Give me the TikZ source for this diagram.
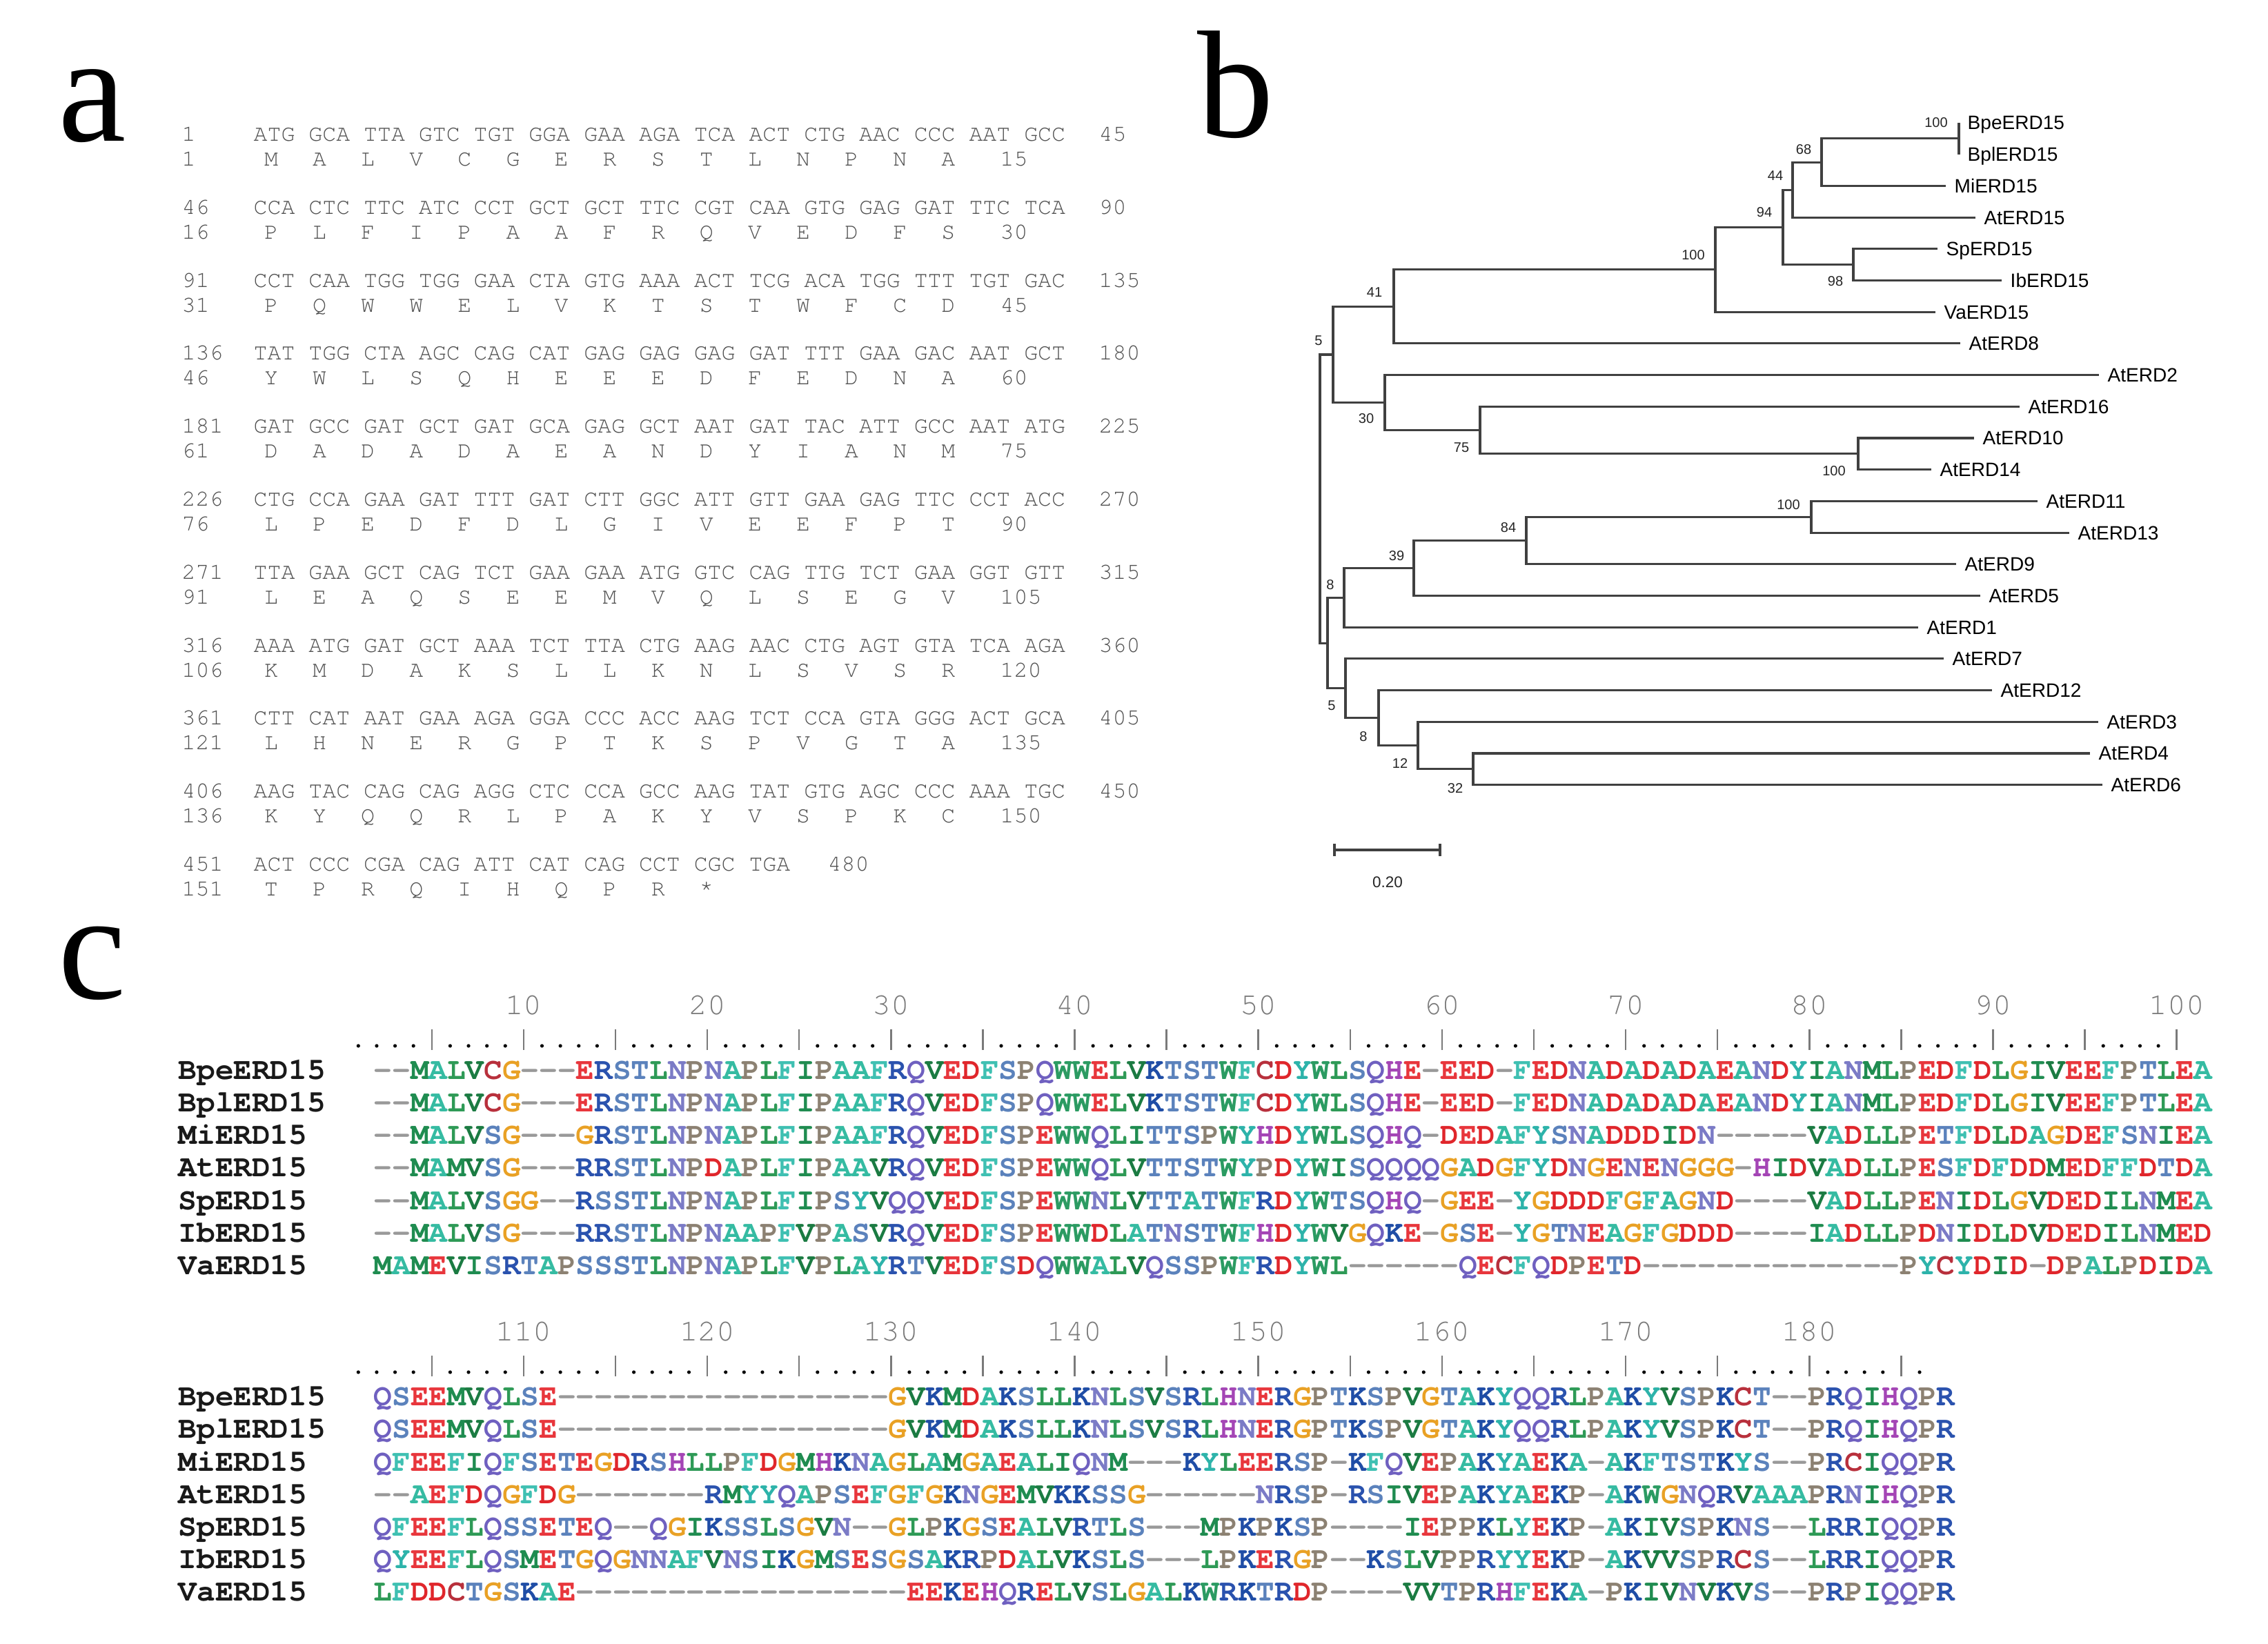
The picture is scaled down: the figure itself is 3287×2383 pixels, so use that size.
\documentclass[tikz,border=0pt]{standalone}
\usepackage{fontspec}
\usetikzlibrary{calc}
\newfontfamily\curfont{texgyrecursor}[Extension=.otf,UprightFont=*-regular,BoldFont=*-bold]
\newfontfamily\sansf{Liberation Sans}
\newfontfamily\serff{Liberation Serif}
\definecolor{agray}{HTML}{505050}
\definecolor{tgray}{HTML}{404040}
\definecolor{rgray}{HTML}{7A7A7A}
\definecolor{gapc}{HTML}{999999}
\definecolor{aaA}{HTML}{35BBA2}
\definecolor{aaC}{HTML}{B8303C}
\definecolor{aaD}{HTML}{E0262B}
\definecolor{aaE}{HTML}{E8363C}
\definecolor{aaF}{HTML}{3FC0B2}
\definecolor{aaG}{HTML}{E9A125}
\definecolor{aaH}{HTML}{A445B5}
\definecolor{aaI}{HTML}{1F8C50}
\definecolor{aaK}{HTML}{1F4DA6}
\definecolor{aaL}{HTML}{2E9A56}
\definecolor{aaM}{HTML}{1F8C50}
\definecolor{aaN}{HTML}{7B7BC6}
\definecolor{aaP}{HTML}{8C8172}
\definecolor{aaQ}{HTML}{6F60C0}
\definecolor{aaR}{HTML}{2A52AE}
\definecolor{aaS}{HTML}{5B82BC}
\definecolor{aaT}{HTML}{5B82BC}
\definecolor{aaV}{HTML}{1B7B42}
\definecolor{aaW}{HTML}{2B9B62}
\definecolor{aaY}{HTML}{2DB3AA}
\def\colseq#1{\colseqi#1\relax}
\def\colseqi#1{\ifx\relax#1\else\colchr{#1}\expandafter\colseqi\fi}
\def\colchr#1{\if-#1\textcolor{gapc}{-}\else\textcolor{aa#1}{#1}\fi}
\tikzset{
 plbl/.style={font=\serff\fontsize{63}{63}\selectfont, anchor=base west, inner sep=0},
 nuc/.style={font=\curfont\fontsize{9.45}{10}\selectfont, text=agray, anchor=base west, inner sep=0},
 aac/.style={font=\curfont\fontsize{9.45}{10}\selectfont, text=agray, anchor=base, inner sep=0},
 branch/.style={draw=tgray, line width=0.9pt},
 leaf/.style={font=\sansf\fontsize{7.97}{8}\selectfont, anchor=base west, inner sep=0, text=black},
 boot/.style={font=\sansf\fontsize{5.7}{6}\selectfont, inner sep=0, text=black!85},
 seq/.style={font=\curfont\bfseries\fontsize{12.63}{13}\selectfont, anchor=base west, inner sep=0},
 sname/.style={font=\curfont\bfseries\fontsize{12.63}{13}\selectfont, anchor=base west, inner sep=0, text=black!90},
 rnum/.style={font=\curfont\fontsize{12.63}{13}\selectfont, text=rgray, anchor=center, inner sep=0},
 rtick/.style={draw=rgray, line width=0.7pt},
}
\newcommand\pArow[8]{%
 \pgfmathsetmacro\ny{204.5+#1*105.8}%
 \pgfmathsetmacro\ay{\ny+36}%
 \node[nuc] (ln#1) at (263,\ny) {#2};
 \node[nuc] (cd#1) at (367,\ny) {#3};
 \node[nuc] (rn#1) at (#5,\ny) {#4};
 \node[nuc] (la#1) at (263,\ay) {#6};
 \foreach \aal [count=\i from 0] in {#7} {\node[aac] (aa#1-\i) at ({393+\i*70.1},\ay) {\aal};}
 \node[nuc] (ra#1) at (1449,\ay) {#8};
}
\begin{document}
\begin{tikzpicture}[x=0.01cm,y=-0.01cm]
\useasboundingbox (0,0) rectangle (3287,2383);
\fill[white] (0,0) rectangle (3287,2383);
% panel letters
\node[plbl] (La) at (84,205) {a};
\node[plbl] (Lb) at (1735,199) {b};
\node[plbl] (Lc) at (84,1448) {c};
% ---------- panel a
\pArow{0}{1}{ATG GCA TTA GTC TGT GGA GAA AGA TCA ACT CTG AAC CCC AAT GCC}{45}{1592}{1}{M,A,L,V,C,G,E,R,S,T,L,N,P,N,A}{15}
\pArow{1}{46}{CCA CTC TTC ATC CCT GCT GCT TTC CGT CAA GTG GAG GAT TTC TCA}{90}{1592}{16}{P,L,F,I,P,A,A,F,R,Q,V,E,D,F,S}{30}
\pArow{2}{91}{CCT CAA TGG TGG GAA CTA GTG AAA ACT TCG ACA TGG TTT TGT GAC}{135}{1592}{31}{P,Q,W,W,E,L,V,K,T,S,T,W,F,C,D}{45}
\pArow{3}{136}{TAT TGG CTA AGC CAG CAT GAG GAG GAG GAT TTT GAA GAC AAT GCT}{180}{1592}{46}{Y,W,L,S,Q,H,E,E,E,D,F,E,D,N,A}{60}
\pArow{4}{181}{GAT GCC GAT GCT GAT GCA GAG GCT AAT GAT TAC ATT GCC AAT ATG}{225}{1592}{61}{D,A,D,A,D,A,E,A,N,D,Y,I,A,N,M}{75}
\pArow{5}{226}{CTG CCA GAA GAT TTT GAT CTT GGC ATT GTT GAA GAG TTC CCT ACC}{270}{1592}{76}{L,P,E,D,F,D,L,G,I,V,E,E,F,P,T}{90}
\pArow{6}{271}{TTA GAA GCT CAG TCT GAA GAA ATG GTC CAG TTG TCT GAA GGT GTT}{315}{1592}{91}{L,E,A,Q,S,E,E,M,V,Q,L,S,E,G,V}{105}
\pArow{7}{316}{AAA ATG GAT GCT AAA TCT TTA CTG AAG AAC CTG AGT GTA TCA AGA}{360}{1592}{106}{K,M,D,A,K,S,L,L,K,N,L,S,V,S,R}{120}
\pArow{8}{361}{CTT CAT AAT GAA AGA GGA CCC ACC AAG TCT CCA GTA GGG ACT GCA}{405}{1592}{121}{L,H,N,E,R,G,P,T,K,S,P,V,G,T,A}{135}
\pArow{9}{406}{AAG TAC CAG CAG AGG CTC CCA GCC AAG TAT GTG AGC CCC AAA TGC}{450}{1592}{136}{K,Y,Q,Q,R,L,P,A,K,Y,V,S,P,K,C}{150}
\pArow{10}{451}{ACT CCC CGA CAG ATT CAT CAG CCT CGC TGA}{480}{1199}{151}{T,P,R,Q,I,H,Q,P,R,*}{}
% ---------- panel b : tree
\coordinate (eBpe) at (2839,178);
\coordinate (eBpl) at (2839,223.7);
\coordinate (eMi) at (2820,269.4);
\coordinate (eAt15) at (2863,315.1);
\coordinate (eSp) at (2808,360.8);
\coordinate (eIb) at (2901,406.5);
\coordinate (eVa) at (2805,452.2);
\coordinate (eAt8) at (2841,497.9);
\coordinate (eAt2) at (3042,543.6);
\coordinate (eAt16) at (2927,589.3);
\coordinate (eAt10) at (2861,635.0);
\coordinate (eAt14) at (2799,680.7);
\coordinate (eAt11) at (2953,726.4);
\coordinate (eAt13) at (2999,772.1);
\coordinate (eAt9) at (2835,817.8);
\coordinate (eAt5) at (2870,863.5);
\coordinate (eAt1) at (2780,909.2);
\coordinate (eAt7) at (2817,954.9);
\coordinate (eAt12) at (2887,1000.6);
\coordinate (eAt3) at (3041,1046.3);
\coordinate (eAt4) at (3029,1092.0);
\coordinate (eAt6) at (3047,1137.7);
\coordinate (nBB) at (2839,200.9);
\coordinate (n68) at (2640,235.1);
\coordinate (n44) at (2598,275.1);
\coordinate (n98) at (2686,383.6);
\coordinate (n94) at (2584,329.4);
\coordinate (n100a) at (2486,390.8);
\coordinate (n41) at (2020,444.4);
\coordinate (n100b) at (2693,657.9);
\coordinate (n75) at (2145,623.6);
\coordinate (n30) at (2007,583.6);
\coordinate (n5a) at (1932,514.0);
\coordinate (n100c) at (2625,749.3);
\coordinate (n84) at (2212,783.5);
\coordinate (n39) at (2049,823.5);
\coordinate (n8a) at (1948,866.4);
\coordinate (n32) at (2135,1114.9);
\coordinate (n12) at (2055,1080.6);
\coordinate (n8b) at (1998,1040.6);
\coordinate (n5b) at (1950,997.8);
\coordinate (nlow) at (1924,932.1);
\coordinate (root) at (1913,723);
\draw[branch] (eBpe) -- (eBpl);
\foreach \pp/\cc in {n68/nBB,n68/eMi,n44/n68,n44/eAt15,n98/eSp,n98/eIb,n94/n44,n94/n98,n100a/n94,n100a/eVa,n41/n100a,n41/eAt8,n100b/eAt10,n100b/eAt14,n75/eAt16,n75/n100b,n30/eAt2,n30/n75,n5a/n41,n5a/n30,n100c/eAt11,n100c/eAt13,n84/n100c,n84/eAt9,n39/n84,n39/eAt5,n8a/n39,n8a/eAt1,n32/eAt4,n32/eAt6,n12/eAt3,n12/n32,n8b/eAt12,n8b/n12,n5b/eAt7,n5b/n8b,nlow/n8a,nlow/n5b,root/n5a,root/nlow}
  \draw[branch] (\pp) |- (\cc);
\foreach \ee/\tt in {Bpe/BpeERD15,Bpl/BplERD15,Mi/MiERD15,At15/AtERD15,Sp/SpERD15,Ib/IbERD15,Va/VaERD15,At8/AtERD8,At2/AtERD2,At16/AtERD16,At10/AtERD10,At14/AtERD14,At11/AtERD11,At13/AtERD13,At9/AtERD9,At5/AtERD5,At1/AtERD1,At7/AtERD7,At12/AtERD12,At3/AtERD3,At4/AtERD4,At6/AtERD6}
  \node[leaf] (t\ee) at ($(e\ee)+(12,10)$) {\tt};
\foreach \bn/\bx/\by/\bt in {b1/2806/178/100,b2/2614/217/68,b3/2573/255/44,b4/2557/308/94,b5/2660/408/98,b6/2454/370/100,b7/1992/424/41,b8/1911/494/5,b9/1980/607/30,b10/2118/649/75,b11/2658/683/100,b12/2592/732/100,b13/2186/765/84,b14/2024/806/39,b15/1928/848/8,b16/1930/1023/5,b17/1976/1068/8,b18/2029/1107/12,b19/2109/1143/32}
  \node[boot] (\bn) at (\bx,\by) {\bt};
\coordinate (sb1) at (1934,1232);
\coordinate (sb2) at (2087,1232);
\draw[branch] (sb1) -- (sb2);
\draw[branch] ($(sb1)+(0,-9)$) -- ($(sb1)+(0,9)$);
\draw[branch] ($(sb2)+(0,-9)$) -- ($(sb2)+(0,9)$);
\node[boot, font=\sansf\fontsize{6.4}{7}\selectfont] (sbl) at (2011,1279) {0.20};
% ---------- panel c : ruler block 1
\foreach \p in {1,...,100} {
  \pgfmathtruncatemacro\rr{mod(\p,5)}
  \ifnum\rr=0 \draw[rtick] ({506+(\p-0.5)*26.62},1492) -- ({506+(\p-0.5)*26.62},1522);
  \else \fill[black] ({506+(\p-0.5)*26.62},1516) circle (2.6); \fi
}
\foreach \n in {10,20,...,100} \node[rnum] (ra\n) at ({506+(\n-0.5)*26.62},1457) {\n};
% ruler block 2
\foreach \p in {101,...,186} {
  \pgfmathtruncatemacro\rr{mod(\p,5)}
  \ifnum\rr=0 \draw[rtick] ({506+(\p-100.5)*26.62},1965) -- ({506+(\p-100.5)*26.62},1995);
  \else \fill[black] ({506+(\p-100.5)*26.62},1989) circle (2.6); \fi
}
\foreach \n in {110,120,...,180} \node[rnum] (rb\n) at ({506+(\n-100.5)*26.62},1930) {\n};
% sequences block 1
\node[sname] (na1) at (258,1564.2) {BpeERD15};
\node[seq] (sa1) at (541,1564.2) {\colseq{--MALVCG---ERSTLNPNAPLFIPAAFRQVEDFSPQWWELVKTSTWFCDYWLSQHE-EED-FEDNADADADAEANDYIANMLPEDFDLGIVEEFPTLEA}};
\node[sname] (na2) at (258,1611.4) {BplERD15};
\node[seq] (sa2) at (541,1611.4) {\colseq{--MALVCG---ERSTLNPNAPLFIPAAFRQVEDFSPQWWELVKTSTWFCDYWLSQHE-EED-FEDNADADADAEANDYIANMLPEDFDLGIVEEFPTLEA}};
\node[sname] (na3) at (258,1658.6) {MiERD15};
\node[seq] (sa3) at (541,1658.6) {\colseq{--MALVSG---GRSTLNPNAPLFIPAAFRQVEDFSPEWWQLITTSPWYHDYWLSQHQ-DEDAFYSNADDDIDN-----VADLLPETFDLDAGDEFSNIEA}};
\node[sname] (na4) at (258,1705.8) {AtERD15};
\node[seq] (sa4) at (541,1705.8) {\colseq{--MAMVSG---RRSTLNPDAPLFIPAAVRQVEDFSPEWWQLVTTSTWYPDYWISQQQQGADGFYDNGENENGGG-HIDVADLLPESFDFDDMEDFFDTDA}};
\node[sname] (na5) at (258,1753.0) {SpERD15};
\node[seq] (sa5) at (541,1753.0) {\colseq{--MALVSGG--RSSTLNPNAPLFIPSYVQQVEDFSPEWWNLVTTATWFRDYWTSQHQ-GEE-YGDDDFGFAGND----VADLLPENIDLGVDEDILNMEA}};
\node[sname] (na6) at (258,1800.2) {IbERD15};
\node[seq] (sa6) at (541,1800.2) {\colseq{--MALVSG---RRSTLNPNAAPFVPASVRQVEDFSPEWWDLATNSTWFHDYWVGQKE-GSE-YGTNEAGFGDDD----IADLLPDNIDLDVDEDILNMED}};
\node[sname] (na7) at (258,1847.4) {VaERD15};
\node[seq] (sa7) at (541,1847.4) {\colseq{MAMEVISRTAPSSSTLNPNAPLFVPLAYRTVEDFSDQWWALVQSSPWFRDYWL------QECFQDPETD--------------PYCYDID-DPALPDIDA}};
% sequences block 2
\node[sname] (nb1) at (258,2037.7) {BpeERD15};
\node[seq] (sb1t) at (541,2037.7) {\colseq{QSEEMVQLSE------------------GVKMDAKSLLKNLSVSRLHNERGPTKSPVGTAKYQQRLPAKYVSPKCT--PRQIHQPR}};
\node[sname] (nb2) at (258,2084.9) {BplERD15};
\node[seq] (sb2t) at (541,2084.9) {\colseq{QSEEMVQLSE------------------GVKMDAKSLLKNLSVSRLHNERGPTKSPVGTAKYQQRLPAKYVSPKCT--PRQIHQPR}};
\node[sname] (nb3) at (258,2132.1) {MiERD15};
\node[seq] (sb3t) at (541,2132.1) {\colseq{QFEEFIQFSETEGDRSHLLPFDGMHKNAGLAMGAEALIQNM---KYLEERSP-KFQVEPAKYAEKA-AKFTSTKYS--PRCIQQPR}};
\node[sname] (nb4) at (258,2179.3) {AtERD15};
\node[seq] (sb4t) at (541,2179.3) {\colseq{--AEFDQGFDG-------RMYYQAPSEFGFGKNGEMVKKSSG------NRSP-RSIVEPAKYAEKP-AKWGNQRVAAAPRNIHQPR}};
\node[sname] (nb5) at (258,2226.5) {SpERD15};
\node[seq] (sb5t) at (541,2226.5) {\colseq{QFEEFLQSSETEQ--QGIKSSLSGVN--GLPKGSEALVRTLS---MPKPKSP----IEPPKLYEKP-AKIVSPKNS--LRRIQQPR}};
\node[sname] (nb6) at (258,2273.7) {IbERD15};
\node[seq] (sb6t) at (541,2273.7) {\colseq{QYEEFLQSMETGQGNNAFVNSIKGMSESGSAKRPDALVKSLS---LPKERGP--KSLVPPRYYEKP-AKVVSPRCS--LRRIQQPR}};
\node[sname] (nb7) at (258,2320.9) {VaERD15};
\node[seq] (sb7t) at (541,2320.9) {\colseq{LFDDCTGSKAE------------------EEKEHQRELVSLGALKWRKTRDP----VVTPRHFEKA-PKIVNVKVS--PRPIQQPR}};
\end{tikzpicture}
\end{document}
